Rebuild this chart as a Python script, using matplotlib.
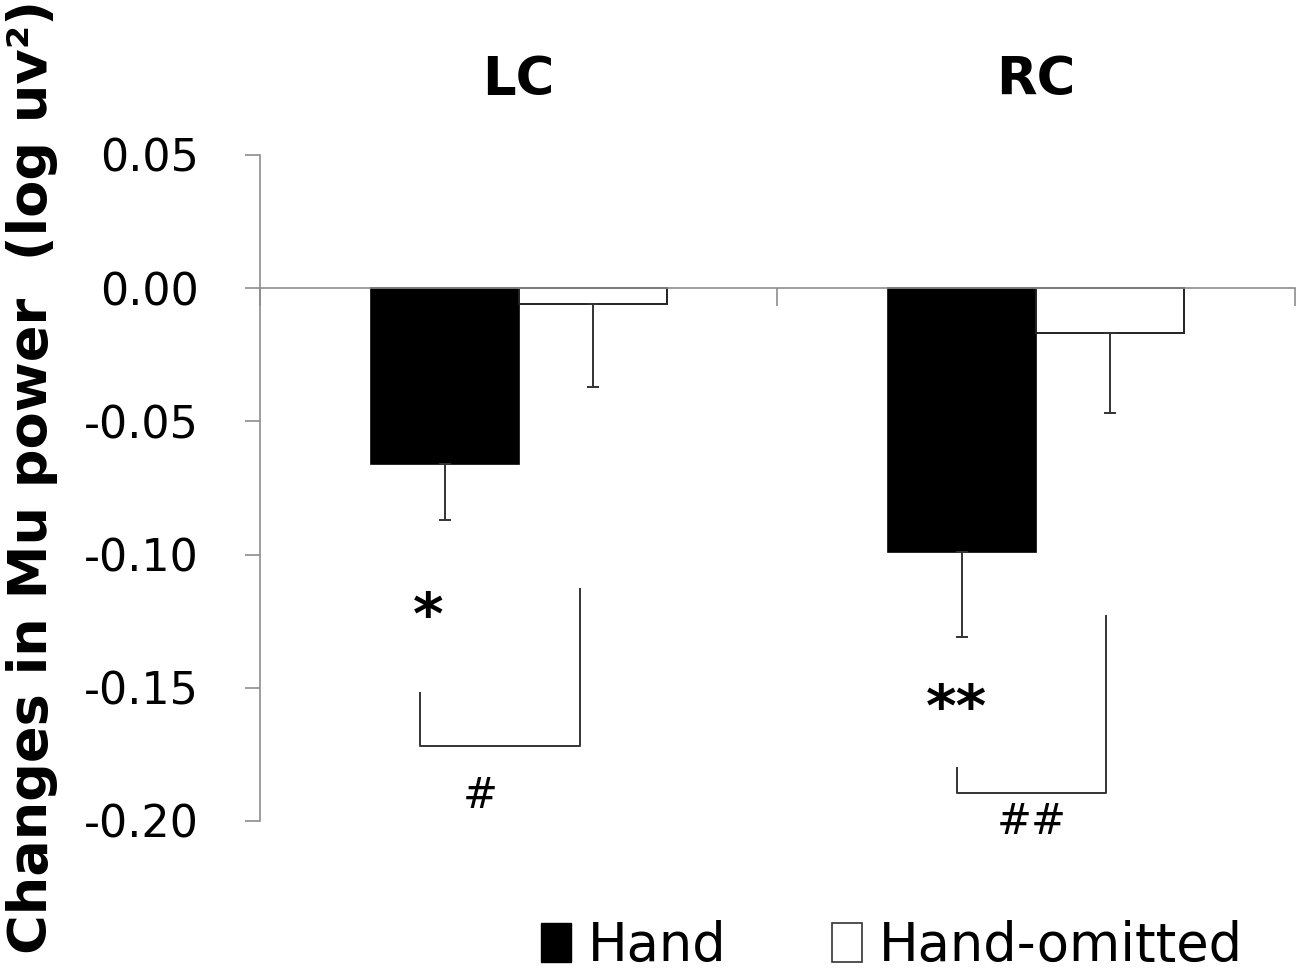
import matplotlib
matplotlib.use("Agg")
import matplotlib.pyplot as plt
from matplotlib.patches import Patch
import numpy as np

# data
regions = ["LC", "RC"]
series = ["Hand", "Hand-omitted"]
hand_mean = [-0.066, -0.099]
hand_err = [0.021, 0.032]
omit_mean = [-0.006, -0.017]
omit_err = [0.031, 0.030]
yticks = [0.05, 0.00, -0.05, -0.10, -0.15, -0.20]

# significance brackets (data units) and their marks
brackets = [
    [(0.3095, -0.1519), (0.3095, -0.1718), (0.619, -0.1718), (0.619, -0.1128)],
    [(1.348, -0.1801), (1.348, -0.1895), (1.636, -0.1895), (1.636, -0.1229)],
]
marks = [("*", 0.325, -0.1235, 42), ("#", 0.4255, -0.1906, 30),
         ("**", 1.346, -0.158, 42), ("##", 1.491, -0.2005, 30)]

plt.rcParams["font.family"] = ["DejaVu Sans"]
fig = plt.figure(figsize=(13, 9.74), dpi=100)
ax = fig.add_axes([0.2, 0.1571, 0.796, 0.6838])

centers = np.arange(len(regions)) + 0.5
bw = 0.286
ax.bar(centers - bw / 2, hand_mean, bw, color="black", edgecolor="black", linewidth=1.2, zorder=2)
ax.bar(centers + bw / 2, omit_mean, bw, color="white", edgecolor="#222222", linewidth=1.4, zorder=2)
ax.errorbar(centers - bw / 2, hand_mean, yerr=[hand_err, [0] * 2], fmt="none",
            ecolor="#333333", elinewidth=1.4, capsize=4, capthick=1.4, zorder=3)
ax.errorbar(centers + bw / 2, omit_mean, yerr=[omit_err, [0] * 2], fmt="none",
            ecolor="#333333", elinewidth=1.4, capsize=4, capthick=1.4, zorder=3)

ax.set_xlim(0, 2)
ax.set_ylim(-0.20, 0.05)
ax.set_yticks(yticks)
ax.set_yticklabels([f"{v:.2f}" for v in yticks])
ax.set_xticks([0, 1, 2])
ax.set_xticklabels([])

gray = "#8c8c8c"
for s in ["top", "right"]:
    ax.spines[s].set_visible(False)
ax.spines["bottom"].set_position(("data", 0))
ax.spines["bottom"].set_color(gray)
ax.spines["left"].set_color(gray)
ax.spines["bottom"].set_linewidth(1.2)
ax.spines["left"].set_linewidth(1.2)
ax.tick_params(axis="y", direction="out", length=11, width=1.2, color=gray,
               labelsize=32, pad=33)
ax.tick_params(axis="x", direction="out", length=13, width=1.2, color=gray)

for c, name in zip(centers, regions):
    ax.text(c, 0.078, name, ha="center", va="center", fontsize=38,
            fontweight="bold", clip_on=False)

for br in brackets:
    xs = [p[0] for p in br]
    ys = [p[1] for p in br]
    ax.plot(xs, ys, color="#333333", linewidth=1.4, clip_on=False)
for txt, x, y, fs in marks:
    ax.text(x, y, txt, ha="center", va="center", fontsize=fs,
            fontweight="bold" if "*" in txt else "normal", clip_on=False)

fig.text(32 / 1300, 1 - 477 / 974, "Changes in Mu power  (log uv²)", rotation=90,
         ha="center", va="center", fontsize=39, fontweight="bold")

handles = [Patch(facecolor="black", edgecolor="black"),
           Patch(facecolor="white", edgecolor="#333333", linewidth=1.2)]
fig.legend(handles, series, ncol=2, loc="lower left", bbox_to_anchor=(541 / 1300, 0.002),
           frameon=False, borderpad=0, borderaxespad=0, handlelength=0.57,
           handleheight=0.76, handletextpad=0.32, columnspacing=2.0,
           prop={"family": "DejaVu Sans", "size": 38})

fig.savefig("out.png", dpi=100)
